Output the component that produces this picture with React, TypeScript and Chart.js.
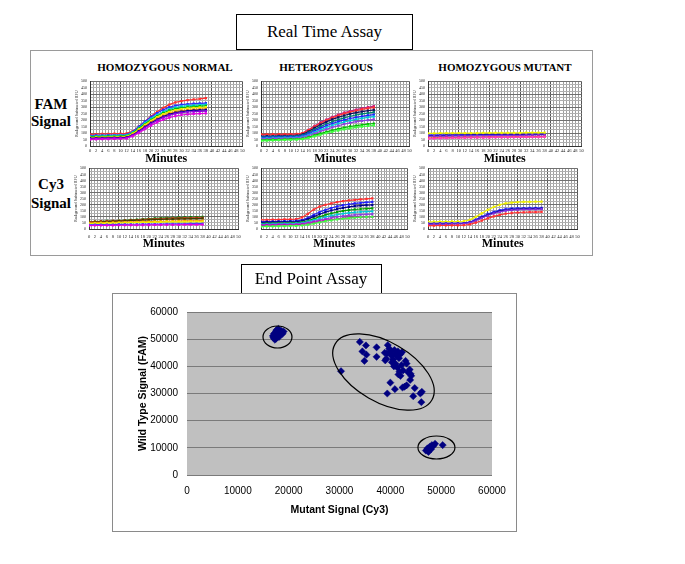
import React, { useEffect, useRef } from 'react';
import { Chart, registerables } from 'chart.js';
Chart.register(...registerables);

const SERIF = "'Liberation Serif', 'Times New Roman', serif";
const SANS = "'Liberation Sans', Arial, sans-serif";

// ---------- Real time assay data (RFU vs minutes) ----------
const MINUTES = [0, 2, 4, 6, 8, 10, 12, 14, 16, 18, 20, 22, 24, 26, 28, 30, 32, 34, 36, 38];

// FAM – homozygous normal
const FAM_NORM_RED = [90, 92, 93, 94, 95, 96, 98, 115, 150, 190, 230, 265, 295, 320, 338, 348, 355, 360, 365, 370];
const FAM_NORM_BLUE = [80, 82, 83, 84, 85, 86, 88, 110, 150, 190, 225, 255, 280, 300, 312, 320, 325, 328, 330, 332];
const FAM_NORM_CYAN = [75, 77, 78, 79, 80, 82, 84, 105, 140, 178, 212, 240, 265, 285, 298, 306, 312, 315, 318, 320];
const FAM_NORM_GREEN = [70, 72, 73, 74, 75, 76, 78, 100, 135, 170, 203, 232, 256, 275, 288, 296, 302, 305, 308, 310];
const FAM_NORM_YELLOW = [65, 67, 68, 69, 70, 71, 73, 95, 128, 163, 195, 224, 247, 265, 278, 286, 292, 295, 298, 300];
const FAM_NORM_ORANGE = [60, 62, 63, 64, 65, 66, 68, 88, 120, 153, 185, 212, 234, 252, 265, 273, 278, 282, 285, 288];
const FAM_NORM_NAVY = [60, 61, 62, 63, 64, 65, 67, 85, 115, 148, 178, 205, 228, 245, 258, 266, 272, 275, 278, 280];
const FAM_NORM_PURPLE = [55, 57, 58, 59, 60, 61, 63, 82, 110, 142, 172, 198, 220, 237, 250, 258, 263, 266, 268, 270];
const FAM_NORM_MAGENTA = [50, 52, 53, 54, 55, 56, 58, 75, 100, 130, 158, 183, 204, 220, 232, 240, 245, 248, 250, 252];

// FAM – heterozygous
const FAM_HET_MAGENTA = [85, 86, 87, 88, 88, 89, 90, 100, 125, 155, 182, 205, 225, 243, 258, 270, 282, 292, 300, 308];
const FAM_HET_RED = [90, 90, 91, 91, 92, 92, 93, 100, 122, 150, 176, 198, 218, 235, 250, 262, 273, 283, 291, 298];
const FAM_HET_NAVY = [75, 76, 77, 78, 78, 79, 80, 90, 112, 140, 165, 187, 206, 222, 236, 248, 258, 266, 273, 280];
const FAM_HET_TEAL = [70, 71, 72, 73, 73, 74, 75, 84, 103, 127, 150, 170, 188, 204, 218, 230, 240, 248, 255, 262];
const FAM_HET_BLUE = [65, 66, 67, 68, 69, 70, 71, 78, 95, 117, 138, 157, 174, 189, 202, 213, 222, 230, 237, 243];
const FAM_HET_CYAN = [60, 61, 62, 63, 64, 65, 66, 72, 87, 106, 125, 143, 159, 173, 186, 197, 206, 214, 221, 227];
const FAM_HET_PURPLE = [55, 56, 57, 58, 59, 60, 61, 66, 79, 96, 113, 129, 144, 157, 169, 179, 188, 195, 201, 206];
const FAM_HET_GREEN = [45, 47, 49, 50, 52, 53, 54, 58, 68, 82, 96, 109, 121, 132, 142, 151, 158, 164, 169, 174];
const FAM_HET_LIME = [40, 42, 44, 46, 47, 48, 49, 53, 62, 74, 87, 99, 110, 120, 129, 137, 144, 150, 155, 160];

// FAM – homozygous mutant
const FAM_MUT_YELLOW = [98, 98, 99, 99, 99, 100, 100, 100, 100, 101, 101, 101, 102, 102, 102, 102, 103, 103, 103, 104];
const FAM_MUT_BLUE = [86, 86, 87, 87, 87, 88, 88, 88, 89, 89, 89, 90, 90, 90, 91, 91, 92, 92, 92, 93];
const FAM_MUT_NAVY = [80, 81, 81, 82, 82, 83, 83, 84, 84, 84, 85, 85, 86, 86, 87, 88, 88, 89, 89, 90];
const FAM_MUT_PURPLE = [76, 76, 77, 77, 78, 78, 79, 79, 80, 80, 81, 81, 82, 82, 83, 83, 84, 84, 85, 85];
const FAM_MUT_RED = [62, 63, 64, 64, 65, 65, 66, 66, 67, 67, 68, 68, 69, 69, 70, 70, 71, 71, 72, 72];
const FAM_MUT_PINK = [55, 58, 60, 61, 62, 63, 63, 64, 64, 65, 65, 66, 66, 67, 67, 68, 68, 69, 69, 70];

// Cy3 – homozygous normal
const CY3_NORM_GREEN = [60, 62, 64, 66, 68, 70, 72, 75, 78, 81, 84, 87, 89, 91, 93, 95, 96, 97, 98, 99];
const CY3_NORM_RED = [58, 60, 62, 64, 66, 68, 70, 72, 74, 77, 79, 81, 83, 85, 87, 88, 89, 90, 91, 92];
const CY3_NORM_OLIVE = [55, 57, 59, 61, 63, 65, 67, 69, 71, 73, 75, 77, 79, 81, 82, 83, 84, 85, 86, 87];
const CY3_NORM_ORANGE = [50, 51, 52, 53, 54, 55, 56, 57, 58, 60, 61, 62, 63, 64, 65, 66, 67, 68, 68, 69];
const CY3_NORM_YELLOW = [45, 46, 47, 48, 49, 50, 51, 52, 53, 54, 55, 56, 57, 58, 58, 59, 59, 60, 60, 61];
const CY3_NORM_BLUE = [35, 36, 36, 37, 37, 38, 38, 39, 39, 40, 40, 41, 41, 42, 42, 43, 43, 44, 44, 45];
const CY3_NORM_MAGENTA = [28, 29, 29, 30, 30, 31, 31, 32, 32, 33, 33, 34, 34, 35, 35, 35, 36, 36, 36, 37];

// Cy3 – heterozygous
const CY3_HET_RED = [75, 76, 77, 78, 79, 80, 82, 95, 125, 160, 185, 200, 212, 222, 230, 236, 241, 245, 248, 252];
const CY3_HET_BLUE = [60, 61, 62, 63, 64, 65, 66, 74, 92, 117, 140, 158, 173, 186, 196, 204, 211, 216, 220, 224];
const CY3_HET_NAVY = [55, 56, 57, 58, 59, 60, 61, 67, 82, 102, 122, 139, 153, 165, 175, 183, 189, 193, 196, 198];
const CY3_HET_GREEN = [45, 46, 47, 48, 49, 50, 51, 56, 68, 84, 101, 116, 129, 140, 149, 156, 161, 165, 168, 170];
const CY3_HET_CYAN = [40, 41, 42, 43, 44, 45, 46, 50, 60, 73, 87, 99, 110, 119, 127, 133, 138, 141, 143, 145];
const CY3_HET_PURPLE = [35, 36, 37, 38, 38, 39, 40, 44, 52, 63, 74, 84, 93, 101, 107, 112, 116, 119, 121, 122];
const CY3_HET_MAGENTA = [30, 31, 32, 33, 33, 34, 35, 38, 45, 54, 63, 71, 78, 84, 89, 93, 96, 98, 99, 100];
const CY3_HET_LIME = [20, 21, 22, 23, 24, 25, 26, 29, 36, 45, 55, 64, 72, 79, 85, 90, 94, 97, 99, 101];

// Cy3 – homozygous mutant
const CY3_MUT_YELLOW = [60, 60, 61, 61, 62, 62, 64, 75, 100, 130, 158, 182, 200, 212, 218, 221, 223, 224, 225, 226];
const CY3_MUT_BLUE = [45, 45, 46, 46, 47, 47, 49, 58, 78, 102, 124, 142, 156, 165, 170, 172, 173, 174, 175, 175];
const CY3_MUT_NAVY = [42, 42, 43, 43, 44, 44, 46, 54, 72, 95, 116, 133, 147, 156, 161, 164, 166, 167, 168, 168];
const CY3_MUT_PURPLE = [40, 40, 41, 41, 42, 42, 44, 52, 69, 91, 111, 128, 142, 151, 156, 159, 161, 162, 163, 164];
const CY3_MUT_RED = [28, 28, 29, 29, 30, 30, 31, 38, 52, 70, 88, 104, 117, 126, 132, 136, 138, 139, 140, 141];

// ---------- End point assay data ----------
const NORMAL_CY3 = [17000, 17200, 17400, 17600, 17800, 18000, 18200, 17500, 17900, 18400, 18800, 19000, 17100, 17700, 18100, 16900, 17300, 18600];
const NORMAL_FAM = [50500, 51500, 52500, 53200, 52000, 53800, 52800, 50200, 51000, 52500, 52000, 52800, 52000, 53500, 50800, 51200, 49800, 53000];
const HET_CY3 = [30300, 34000, 34500, 35200, 35300, 34900, 37300, 37300, 39000, 39300, 39500, 39800, 40000, 40200, 40500, 40300, 40800, 41000, 41200, 41500, 41700, 42000, 42300, 41000, 41400, 41800, 42200, 42500, 43000, 43200, 43500, 43800, 44000, 43900, 44100, 42800, 43200, 42400, 40000, 40900, 39400, 44800, 44500, 45900, 46200, 46100, 39200, 40700, 42000, 38900, 41600];
const HET_FAM = [38200, 49000, 45500, 47700, 44300, 42000, 47000, 43500, 42200, 44800, 47800, 46500, 45200, 44000, 42500, 41500, 46000, 44500, 43800, 45500, 43000, 44500, 45200, 41000, 39500, 38000, 40500, 38500, 42000, 41000, 37800, 38800, 37200, 35000, 36500, 32500, 33000, 32200, 34000, 31600, 30000, 32000, 29000, 30000, 30600, 26800, 42800, 40000, 36500, 45000, 37000];
const MUTANT_CY3 = [47000, 47500, 47800, 48200, 48500, 48800, 47300, 50300, 48000];
const MUTANT_FAM = [9000, 8500, 10500, 11000, 10800, 11500, 9800, 11000, 9500];

// cluster ellipses (data units; rotation in degrees)
const ELLIPSE_CX = [17800, 38650, 49070];
const ELLIPSE_CY = [50800, 37900, 10120];
const ELLIPSE_RX = [2850, 11000, 3640];
const ELLIPSE_RY = [4050, 11000, 4230];
const ELLIPSE_ROT = [0, 30, 0];

const AXIS_TICKS = [0, 10000, 20000, 30000, 40000, 50000, 60000];

type Series = { color: string; values: number[] };

function SmallChart(props: {
  series: Series[];
  l: number; t: number; w: number; h: number;
  tickPad: number; titlePad: number;
}) {
  const ref = useRef<HTMLCanvasElement>(null);
  const YW = 16, XH = 22, PT = 4, PR = 4;
  const cw = props.w + YW + PR;
  const ch = props.h + PT + XH;
  useEffect(() => {
    const chart = new Chart(ref.current!, {
      type: 'line',
      data: {
        datasets: props.series.map((s) => ({
          data: MINUTES.map((m, i) => ({ x: m, y: s.values[i] })),
          borderColor: s.color,
          backgroundColor: s.color,
          borderWidth: 1.2,
          pointRadius: 1.6,
          pointStyle: 'rect',
          pointBorderWidth: 0,
          fill: false,
          tension: 0,
        })),
      },
      options: {
        responsive: false,
        animation: false,
        maintainAspectRatio: false,
        layout: { padding: { top: PT, right: PR, left: 0, bottom: 0 } },
        plugins: { legend: { display: false }, tooltip: { enabled: false } },
        scales: {
          x: {
            type: 'linear',
            min: 0,
            max: 50,
            afterFit: (s: any) => { s.height = XH; },
            ticks: {
              stepSize: 1,
              autoSkip: false,
              maxRotation: 0,
              minRotation: 0,
              padding: props.tickPad,
              font: { size: 4.5, family: SERIF },
              color: '#222',
              callback: (v: any) => (Number(v) % 2 === 0 ? String(v) : ''),
            },
            grid: {
              drawTicks: false,
              color: (c: any) => (c.tick && c.tick.value % 10 === 0 ? '#555' : '#a0a0a0'),
              lineWidth: 1,
            },
            border: { color: '#333' },
            title: {
              display: true,
              text: 'Minutes',
              color: '#000',
              font: { family: SERIF, size: 12, weight: 'bold' },
              padding: { top: 0, bottom: props.titlePad },
            },
          },
          y: {
            type: 'linear',
            min: 0,
            max: 500,
            afterFit: (s: any) => { s.width = YW; },
            ticks: {
              stepSize: 25,
              autoSkip: false,
              padding: 3,
              font: { size: 4, family: SERIF },
              color: '#222',
              callback: (v: any) => (Number(v) % 50 === 0 ? String(v) : ''),
            },
            grid: {
              drawTicks: false,
              color: (c: any) => (c.tick && c.tick.value % 100 === 0 ? '#707070' : '#b0b0b0'),
              lineWidth: 1,
            },
            border: { color: '#333' },
            title: {
              display: true,
              text: 'Background Subtracted RFU',
              color: '#222',
              font: { family: SERIF, size: 4 },
              padding: { top: 0.5, bottom: 0 },
            },
          },
        },
      } as any,
    });
    return () => chart.destroy();
  }, []);
  return (
    <canvas
      ref={ref}
      width={cw}
      height={ch}
      style={{ position: 'absolute', left: props.l - YW, top: props.t - PT, width: cw, height: ch }}
    />
  );
}

function EndPointChart() {
  const ref = useRef<HTMLCanvasElement>(null);
  useEffect(() => {
    const bg = {
      id: 'plotBg',
      beforeDraw(chart: any) {
        const { ctx, chartArea: a } = chart;
        ctx.save();
        ctx.fillStyle = '#c0c0c0';
        ctx.fillRect(a.left, a.top, a.right - a.left, a.bottom - a.top);
        ctx.restore();
      },
    };
    const ellipses = {
      id: 'clusters',
      afterDatasetsDraw(chart: any) {
        const { ctx } = chart;
        const xs = chart.scales.x, ys = chart.scales.y;
        ctx.save();
        ctx.strokeStyle = '#000';
        ctx.lineWidth = 1.2;
        for (let i = 0; i < ELLIPSE_CX.length; i++) {
          const cx = xs.getPixelForValue(ELLIPSE_CX[i]);
          const cy = ys.getPixelForValue(ELLIPSE_CY[i]);
          const a = Math.abs(xs.getPixelForValue(ELLIPSE_CX[i] + ELLIPSE_RX[i]) - cx);
          const b = Math.abs(ys.getPixelForValue(ELLIPSE_CY[i] + ELLIPSE_RY[i]) - cy);
          ctx.beginPath();
          ctx.ellipse(cx, cy, a, b, (ELLIPSE_ROT[i] * Math.PI) / 180, 0, Math.PI * 2);
          ctx.stroke();
        }
        ctx.restore();
      },
    };
    const mk = (xs: number[], ys: number[]) => xs.map((x, i) => ({ x, y: ys[i] }));
    const style = {
      pointStyle: 'rectRot',
      pointRadius: 3.6,
      backgroundColor: '#000080',
      borderColor: '#000080',
      borderWidth: 0.5,
    };
    const chart = new Chart(ref.current!, {
      type: 'scatter',
      data: {
        datasets: [
          { data: mk(NORMAL_CY3, NORMAL_FAM), ...style },
          { data: mk(HET_CY3, HET_FAM), ...style },
          { data: mk(MUTANT_CY3, MUTANT_FAM), ...style },
        ],
      },
      options: {
        responsive: false,
        animation: false,
        maintainAspectRatio: false,
        layout: { padding: { top: 18, right: 24, left: 0, bottom: 0 } },
        plugins: { legend: { display: false }, tooltip: { enabled: false } },
        scales: {
          x: {
            type: 'linear',
            min: 0,
            max: 60000,
            afterFit: (s: any) => { s.height = 56; },
            afterBuildTicks: (s: any) => { s.ticks = AXIS_TICKS.map((v) => ({ value: v })); },
            ticks: {
              padding: 10,
              color: '#000',
              font: { family: SANS, size: 10 },
              maxRotation: 0,
              callback: (v: any) => String(v),
            },
            grid: { display: false, drawTicks: false },
            border: { display: false },
            title: {
              display: true,
              text: 'Mutant Signal (Cy3)',
              color: '#000',
              font: { family: SANS, size: 10.5, weight: 'bold' },
              padding: { top: 0, bottom: 15 },
            },
          },
          y: {
            type: 'linear',
            min: 0,
            max: 60000,
            afterFit: (s: any) => { s.width = 74; },
            afterBuildTicks: (s: any) => { s.ticks = AXIS_TICKS.map((v) => ({ value: v })); },
            ticks: {
              padding: 9,
              color: '#000',
              font: { family: SANS, size: 10 },
              callback: (v: any) => String(v),
            },
            grid: { color: '#7a7a7a', lineWidth: 1, drawTicks: false },
            border: { display: false },
            title: {
              display: true,
              text: 'Wild Type Signal (FAM)',
              color: '#000',
              font: { family: SANS, size: 10.5, weight: 'bold' },
              padding: { top: 24, bottom: 0 },
            },
          },
        },
      } as any,
      plugins: [bg, ellipses],
    });
    return () => chart.destroy();
  }, []);
  return (
    <canvas ref={ref} width={403} height={237} style={{ position: 'absolute', left: 113, top: 294, width: 403, height: 237 }} />
  );
}

function Label(props: { text: string; cx: number; cy: number; size: number; bold?: boolean; family?: string }) {
  const H = 24;
  return (
    <div
      style={{
        position: 'absolute',
        left: props.cx - 150,
        top: props.cy - H / 2,
        width: 300,
        height: H,
        lineHeight: H + 'px',
        textAlign: 'center',
        fontSize: props.size,
        fontWeight: props.bold ? 'bold' : 'normal',
        fontFamily: props.family || SERIF,
        color: '#000',
        whiteSpace: 'nowrap',
      }}
    >
      {props.text}
    </div>
  );
}

export default function App() {
  const famNorm: Series[] = [
    { color: '#e000e0', values: FAM_NORM_MAGENTA },
    { color: '#9000e0', values: FAM_NORM_PURPLE },
    { color: '#000090', values: FAM_NORM_NAVY },
    { color: '#ff8c00', values: FAM_NORM_ORANGE },
    { color: '#f0f000', values: FAM_NORM_YELLOW },
    { color: '#00c000', values: FAM_NORM_GREEN },
    { color: '#00d0e0', values: FAM_NORM_CYAN },
    { color: '#2a2aff', values: FAM_NORM_BLUE },
    { color: '#ff3030', values: FAM_NORM_RED },
  ];
  const famHet: Series[] = [
    { color: '#40ff40', values: FAM_HET_LIME },
    { color: '#00c000', values: FAM_HET_GREEN },
    { color: '#9040e0', values: FAM_HET_PURPLE },
    { color: '#00c8d8', values: FAM_HET_CYAN },
    { color: '#2020ff', values: FAM_HET_BLUE },
    { color: '#008070', values: FAM_HET_TEAL },
    { color: '#101060', values: FAM_HET_NAVY },
    { color: '#ff3030', values: FAM_HET_RED },
    { color: '#c0208a', values: FAM_HET_MAGENTA },
  ];
  const famMut: Series[] = [
    { color: '#ff40c0', values: FAM_MUT_PINK },
    { color: '#ff3030', values: FAM_MUT_RED },
    { color: '#f0f000', values: FAM_MUT_YELLOW },
    { color: '#8030e0', values: FAM_MUT_PURPLE },
    { color: '#000090', values: FAM_MUT_NAVY },
    { color: '#3030ff', values: FAM_MUT_BLUE },
  ];
  const cyNorm: Series[] = [
    { color: '#e000e0', values: CY3_NORM_MAGENTA },
    { color: '#4040ff', values: CY3_NORM_BLUE },
    { color: '#f0f000', values: CY3_NORM_YELLOW },
    { color: '#ff9000', values: CY3_NORM_ORANGE },
    { color: '#404000', values: CY3_NORM_OLIVE },
    { color: '#ff3030', values: CY3_NORM_RED },
    { color: '#008000', values: CY3_NORM_GREEN },
  ];
  const cyHet: Series[] = [
    { color: '#40ff40', values: CY3_HET_LIME },
    { color: '#c000c0', values: CY3_HET_MAGENTA },
    { color: '#9040e0', values: CY3_HET_PURPLE },
    { color: '#00c8d8', values: CY3_HET_CYAN },
    { color: '#00a000', values: CY3_HET_GREEN },
    { color: '#000090', values: CY3_HET_NAVY },
    { color: '#2020ff', values: CY3_HET_BLUE },
    { color: '#ff3030', values: CY3_HET_RED },
  ];
  const cyMut: Series[] = [
    { color: '#ff3030', values: CY3_MUT_RED },
    { color: '#8030e0', values: CY3_MUT_PURPLE },
    { color: '#000090', values: CY3_MUT_NAVY },
    { color: '#3030ff', values: CY3_MUT_BLUE },
    { color: '#f0f000', values: CY3_MUT_YELLOW },
  ];

  return (
    <div style={{ position: 'absolute', left: 0, top: 0, width: 685, height: 564, background: '#fff', overflow: 'hidden' }}>
      {/* Real Time Assay */}
      <div style={{ position: 'absolute', left: 236, top: 14, width: 175, height: 34, border: '1px solid #000' }} />
      <Label text="Real Time Assay" cx={324.5} cy={32} size={17} />
      <div style={{ position: 'absolute', left: 30, top: 50, width: 561, height: 204, border: '1px solid #9a9a9a' }} />

      <Label text="HOMOZYGOUS NORMAL" cx={165} cy={67} size={11} bold />
      <Label text="HETEROZYGOUS" cx={326} cy={67} size={11} bold />
      <Label text="HOMOZYGOUS MUTANT" cx={505} cy={67} size={11} bold />

      <Label text="FAM" cx={51} cy={104} size={15} bold />
      <Label text="Signal" cx={51} cy={121} size={15} bold />
      <Label text="Cy3" cx={51} cy={184} size={15} bold />
      <Label text="Signal" cx={51} cy={203} size={15} bold />

      <SmallChart series={famNorm} l={90} t={80} w={153} h={66} tickPad={2.3} titlePad={1.8} />
      <SmallChart series={famHet} l={261} t={80} w={149} h={66} tickPad={2.3} titlePad={1.8} />
      <SmallChart series={famMut} l={428} t={80} w={154} h={66} tickPad={2.3} titlePad={1.8} />
      <SmallChart series={cyNorm} l={89} t={167} w={153} h={62} tickPad={5.3} titlePad={0} />
      <SmallChart series={cyHet} l={261} t={167} w={150} h={62} tickPad={5.3} titlePad={0} />
      <SmallChart series={cyMut} l={428} t={167} w={153} h={62} tickPad={5.3} titlePad={0} />

      {/* End Point Assay */}
      <div style={{ position: 'absolute', left: 241, top: 264, width: 139, height: 28, border: '1px solid #000', background: '#fff' }} />
      <Label text="End Point Assay" cx={311} cy={279} size={17} />
      <div style={{ position: 'absolute', left: 112, top: 293, width: 403, height: 237, border: '1px solid #8a8a8a' }} />
      <EndPointChart />
    </div>
  );
}
